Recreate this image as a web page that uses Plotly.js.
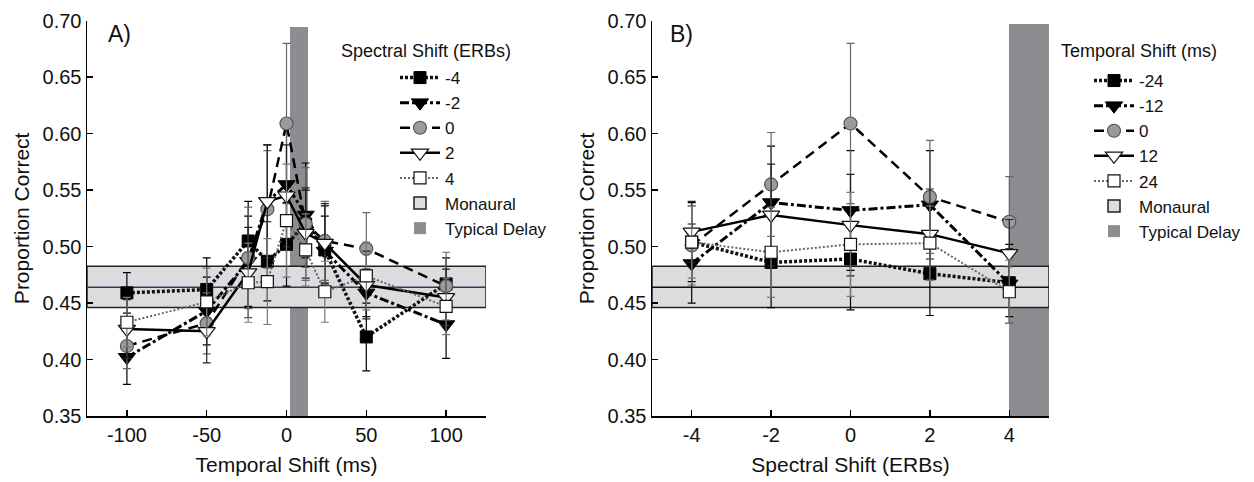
<!DOCTYPE html>
<html>
<head>
<meta charset="utf-8">
<script src="https://cdn.plot.ly/plotly-3.0.1.min.js"></script>
<style>html,body{margin:0;padding:0;background:#fff;}#chart{width:1254px;height:482px;}</style>
</head>
<body>
<div id="chart"></div>
<script>
// ---------- Panel A data (x = temporal shift, ms) ----------
var temporalShifts = [-100, -50, -24, -12, 0, 12, 24, 50, 100];
var spectralLabels = ['-4', '-2', '0', '2', '4'];
var aMinus4 = [0.459, 0.462, 0.505, 0.487, 0.502, 0.520, 0.497, 0.420, 0.467];
var aMinus2 = [0.402, 0.443, 0.487, 0.540, 0.555, 0.528, 0.496, 0.459, 0.431];
var aZero   = [0.412, 0.432, 0.490, 0.533, 0.609, 0.520, 0.505, 0.498, 0.465];
var aPlus2  = [0.427, 0.425, 0.477, 0.540, 0.545, 0.512, 0.503, 0.466, 0.455];
var aPlus4  = [0.433, 0.451, 0.468, 0.469, 0.523, 0.497, 0.460, 0.474, 0.447];
var aErrMinus4 = [0.018, 0.028, 0.035, 0.035, 0.037, 0.030, 0.030, 0.030, 0.023];
var aErrMinus2 = [0.024, 0.030, 0.040, 0.050, 0.050, 0.046, 0.040, 0.021, 0.030];
var aErrZero   = [0.020, 0.027, 0.045, 0.052, 0.071, 0.050, 0.035, 0.032, 0.030];
var aErrPlus2  = [0.026, 0.028, 0.040, 0.050, 0.045, 0.040, 0.035, 0.030, 0.025];
var aErrPlus4  = [0.022, 0.030, 0.035, 0.038, 0.050, 0.032, 0.027, 0.030, 0.025];
var aTickVals  = [-100, -50, 0, 50, 100];
var aTickText  = ['-100', '-50', '0', '50', '100'];

// ---------- Panel B data (x = spectral shift, ERBs) ----------
var spectralShifts = [-4, -2, 0, 2, 4];
var temporalLabels = ['-24', '-12', '0', '12', '24'];
var bMinus24 = [0.504, 0.486, 0.489, 0.476, 0.468];
var bMinus12 = [0.485, 0.539, 0.532, 0.537, 0.467];
var bZero    = [0.501, 0.555, 0.609, 0.544, 0.522];
var bPlus12  = [0.513, 0.528, 0.519, 0.511, 0.494];
var bPlus24  = [0.504, 0.495, 0.502, 0.503, 0.460];
var bErrMinus24 = [0.035, 0.040, 0.045, 0.037, 0.030];
var bErrMinus12 = [0.035, 0.050, 0.053, 0.048, 0.035];
var bErrZero    = [0.035, 0.046, 0.071, 0.050, 0.040];
var bErrPlus12  = [0.027, 0.045, 0.045, 0.040, 0.030];
var bErrPlus24  = [0.032, 0.040, 0.046, 0.033, 0.028];
var bTickVals  = [-4, -2, 0, 2, 4];
var bTickText  = ['-4', '-2', '0', '2', '4'];

// ---------- Shared y ticks ----------
var yTickVals = [0.35, 0.40, 0.45, 0.50, 0.55, 0.60, 0.65, 0.70];

// ---------- Reference bands ----------
var monauralMean = 0.464;
var monauralRange = [0.446, 0.4825];
var typicalDelayA = [2.5, 13.5];       // ms
var typicalDelayAHeight = [0.35, 0.694];
var typicalDelayB = [4, 5];            // ERBs
var typicalDelayBHeight = [0.35, 0.697];
var xRangeA = [-125, 125];
var xRangeB = [-5, 5];
var yRange = [0.35, 0.70];

// ---------- Styles ----------
var seriesStyles = [
  {line: {color: '#111', width: 3.5, dash: '3px,2px'}, marker: {symbol: 'square', size: 12, color: '#000', line: {color: '#000', width: 1}}, err: '#000'},
  {line: {color: '#000', width: 3, dash: 'dashdot'}, marker: {symbol: 'triangle-down', size: 15, color: '#000', line: {color: '#000', width: 1}}, err: '#000'},
  {line: {color: '#000', width: 2.5, dash: '10px,6px'}, marker: {symbol: 'circle', size: 13, color: '#9b9b9b', line: {color: '#555', width: 1.2}}, err: '#666'},
  {line: {color: '#000', width: 2.5, dash: 'solid'}, marker: {symbol: 'triangle-down', size: 15, color: '#fff', line: {color: '#111', width: 1.2}}, err: '#222'},
  {line: {color: '#666', width: 2, dash: '2px,2px'}, marker: {symbol: 'square', size: 12, color: '#fff', line: {color: '#111', width: 1.2}}, err: '#777'}
];

var traces = [];

function addBands(xa, ya, legendName, tdRange, tdHeight, xRange, centerColor) {
  traces.push({
    type: 'bar', orientation: 'v', xaxis: xa, yaxis: ya, legend: legendName,
    name: 'Typical Delay', legendrank: 7,
    x: [(tdRange[0] + tdRange[1]) / 2], width: [tdRange[1] - tdRange[0]],
    base: [tdHeight[0]], y: [tdHeight[1] - tdHeight[0]],
    marker: {color: '#8d8d91', line: {width: 0}}, hoverinfo: 'skip'
  });
  traces.push({
    type: 'bar', orientation: 'h', xaxis: xa, yaxis: ya, legend: legendName,
    name: 'Monaural', legendrank: 6,
    y: [(monauralRange[0] + monauralRange[1]) / 2], width: [monauralRange[1] - monauralRange[0]],
    base: [xRange[0]], x: [xRange[1] - xRange[0]],
    marker: {color: '#dcdcde', line: {color: '#222', width: 1.5}}, hoverinfo: 'skip'
  });
  traces.push({
    type: 'scatter', mode: 'lines', xaxis: xa, yaxis: ya, legend: legendName, showlegend: false,
    x: xRange, y: [monauralMean, monauralMean],
    line: {color: centerColor, width: 1.5}, hoverinfo: 'skip'
  });
}

function addSeries(xa, ya, legendName, xs, ys, errs, labels) {
  for (var i = 0; i < ys.length; i++) {
    var s = seriesStyles[i];
    traces.push({
      type: 'scatter', mode: 'lines+markers', xaxis: xa, yaxis: ya, legend: legendName,
      name: labels[i], legendrank: i + 1,
      x: xs, y: ys[i],
      error_y: {type: 'data', array: errs[i], visible: true, color: s.err, thickness: 1.2, width: 4},
      line: s.line, marker: s.marker
    });
  }
}

addBands('x', 'y', 'legend', typicalDelayA, typicalDelayAHeight, xRangeA, '#2d3b57');
addBands('x2', 'y2', 'legend2', typicalDelayB, typicalDelayBHeight, xRangeB, '#111');
addSeries('x', 'y', 'legend', temporalShifts,
  [aMinus4, aMinus2, aZero, aPlus2, aPlus4],
  [aErrMinus4, aErrMinus2, aErrZero, aErrPlus2, aErrPlus4], spectralLabels);
addSeries('x2', 'y2', 'legend2', spectralShifts,
  [bMinus24, bMinus12, bZero, bPlus12, bPlus24],
  [bErrMinus24, bErrMinus12, bErrZero, bErrPlus12, bErrPlus24], temporalLabels);

var FONT = 'Liberation Sans, Arial, sans-serif';
var axisCommon = {
  showline: true, linecolor: '#000', linewidth: 1.5, mirror: false,
  ticks: 'inside', ticklen: 6, tickwidth: 1.5, tickcolor: '#000',
  showgrid: false, zeroline: false, fixedrange: true,
  tickfont: {family: FONT, size: 20, color: '#111'}
};
function ax(extra) { return Object.assign({}, axisCommon, extra); }

var yDomain = [1 - 416 / 482, 1 - 20.7 / 482];
var yTickText = yTickVals.map(function (v) { return v.toFixed(2); });

var layout = {
  width: 1254, height: 482,
  margin: {l: 0, r: 0, t: 0, b: 0},
  paper_bgcolor: '#fff', plot_bgcolor: 'rgba(0,0,0,0)',
  barmode: 'overlay', bargap: 0,
  showlegend: true,
  font: {family: FONT, color: '#111'},
  xaxis: ax({domain: [87 / 1254, 486 / 1254], range: xRangeA, tickmode: 'array', tickvals: aTickVals, ticktext: aTickText,
    anchor: 'y', title: {text: 'Temporal Shift (ms)', font: {family: FONT, size: 21, color: '#111'}, standoff: 13}}),
  yaxis: ax({domain: yDomain, range: yRange, tickmode: 'array', tickvals: yTickVals, ticktext: yTickText,
    anchor: 'x', title: {text: 'Proportion Correct', font: {family: FONT, size: 21, color: '#111'}, standoff: 7}}),
  xaxis2: ax({domain: [652 / 1254, 1049 / 1254], range: xRangeB, tickmode: 'array', tickvals: bTickVals, ticktext: bTickText,
    anchor: 'y2', title: {text: 'Spectral Shift (ERBs)', font: {family: FONT, size: 21, color: '#111'}, standoff: 13}}),
  yaxis2: ax({domain: yDomain, range: yRange, tickmode: 'array', tickvals: yTickVals, ticktext: yTickText,
    anchor: 'x2', title: {text: 'Proportion Correct', font: {family: FONT, size: 21, color: '#111'}, standoff: 7}}),
  legend: {x: 395 / 1254, xanchor: 'left', y: 1 - 60 / 482, yanchor: 'top', bgcolor: 'rgba(0,0,0,0)',
    font: {family: FONT, size: 17, color: '#111'}, itemwidth: 40, traceorder: 'normal'},
  legend2: {x: 1089 / 1254, xanchor: 'left', y: 1 - 63 / 482, yanchor: 'top', bgcolor: 'rgba(0,0,0,0)',
    font: {family: FONT, size: 17, color: '#111'}, itemwidth: 40, traceorder: 'normal'},
  annotations: [
    {text: 'A)', xref: 'paper', yref: 'paper', x: 106 / 1254, y: 1 - 34 / 482, xanchor: 'left', yanchor: 'middle',
      showarrow: false, font: {family: FONT, size: 23, color: '#111'}},
    {text: 'B)', xref: 'paper', yref: 'paper', x: 668 / 1254, y: 1 - 34 / 482, xanchor: 'left', yanchor: 'middle',
      showarrow: false, font: {family: FONT, size: 23, color: '#111'}},
    {text: 'Spectral Shift (ERBs)', xref: 'paper', yref: 'paper', x: 339 / 1254, y: 1 - 51 / 482, xanchor: 'left', yanchor: 'middle',
      showarrow: false, font: {family: FONT, size: 18, color: '#111'}},
    {text: 'Temporal Shift (ms)', xref: 'paper', yref: 'paper', x: 1059 / 1254, y: 1 - 51 / 482, xanchor: 'left', yanchor: 'middle',
      showarrow: false, font: {family: FONT, size: 18, color: '#111'}}
  ]
};

Plotly.newPlot('chart', traces, layout, {staticPlot: true, displayModeBar: false});
</script>
</body>
</html>
